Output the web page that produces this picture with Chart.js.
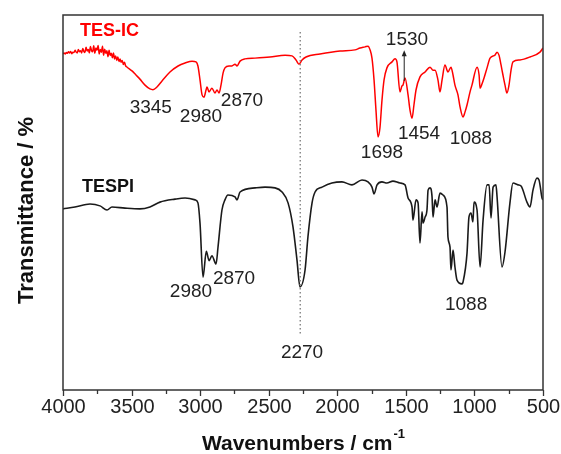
<!DOCTYPE html>
<html>
<head>
<meta charset="utf-8">
<script src="https://cdn.jsdelivr.net/npm/chart.js@4/dist/chart.umd.min.js"></script>
<style>
  html, body { margin: 0; padding: 0; background: #fff; }
  canvas { display: block; }
</style>
</head>
<body>
<canvas id="c" width="561" height="454"></canvas>
<script>
// ---- Data (wavenumber in cm-1, transmittance in arbitrary %) ----
const tesicWavenumbers = [4000,3992,3984,3976,3968,3960,3952,3944,3936,3928,3920,3912,3904,3896,3888,3880,3872,3864,3856,3848,3840,3832,3824,3816,3808,3800,3792,3784,3776,3768,3760,3752,3744,3736,3728,3720,3712,3704,3696,3688,3680,3672,3664,3656,3648,3640,3632,3624,3616,3608,3600,3592,3584,3576,3568,3560,3552,3544,3536,3497,3468,3439,3402,3366,3344,3315,3278,3220,3161,3110,3059,3030,3016,3001,2986,2972,2957,2950,2935,2914,2892,2877,2862,2848,2833,2819,2790,2768,2746,2731,2709,2673,2600,2491,2381,2330,2301,2279,2257,2228,2126,1980,1871,1834,1798,1776,1761,1747,1732,1718,1703,1689,1674,1659,1638,1601,1579,1565,1543,1528,1521,1506,1484,1470,1455,1441,1426,1397,1360,1324,1302,1287,1266,1251,1236,1215,1193,1171,1156,1142,1120,1105,1083,1069,1054,1032,1018,981,966,959,945,930,908,886,850,835,821,806,792,777,763,748,733,719,668,595,522,500];
const tesicValues = [89.6,89.9,89.6,90.0,89.8,90.2,89.9,90.3,89.7,90.1,90.0,90.6,90.1,89.9,90.8,90.2,90.5,89.9,91.1,90.3,90.0,91.4,90.4,90.8,89.9,91.6,90.5,90.2,91.8,89.8,91.2,90.6,91.9,89.6,90.8,90.1,91.7,89.3,90.9,89.8,90.5,88.9,90.6,89.2,89.8,88.6,89.9,88.3,89.1,87.9,88.8,87.6,88.3,87.4,87.9,86.8,87.4,86.5,86.2,85.1,84.0,82.9,81.3,80.3,80.1,80.8,82.4,84.8,86.4,87.2,87.7,87.5,86.4,82.7,78.7,78.1,80.0,80.8,79.5,80.5,79.2,80.0,79.2,81.3,84.5,85.9,86.4,86.4,86.9,86.4,87.7,88.3,88.5,88.8,89.3,89.1,88.0,86.9,88.0,88.8,89.6,90.4,90.7,91.2,91.5,91.7,90.7,88.5,82.7,74.7,67.5,69.9,77.3,82.7,85.9,87.5,88.3,87.5,79.5,81.1,81.3,83.2,78.7,74.7,72.5,76.0,80.0,83.5,84.8,86.1,85.3,85.3,82.7,79.5,82.7,86.7,84.8,86.1,84.0,81.3,78.7,75.5,72.8,74.1,76.0,79.5,81.3,86.1,84.0,80.5,81.6,83.2,85.9,88.5,89.3,90.1,89.3,86.7,84.0,81.3,79.2,81.3,85.3,87.5,88.0,88.8,90.1,91.2];

const tespiWavenumbers = [4000,3913,3803,3730,3679,3643,3548,3439,3366,3293,3183,3110,3037,3016,3001,2979,2955,2935,2914,2884,2870,2841,2819,2797,2746,2731,2709,2600,2527,2454,2403,2359,2323,2294,2272,2235,2214,2184,2162,2111,2039,1966,1893,1820,1776,1747,1732,1710,1674,1638,1594,1543,1506,1484,1455,1448,1426,1411,1397,1382,1375,1360,1346,1338,1324,1309,1302,1287,1273,1251,1229,1200,1193,1178,1171,1156,1142,1127,1091,1083,1054,1040,1025,1011,1003,981,959,937,908,893,879,864,843,835,799,777,741,719,682,660,617,595,573,544,529,507,500];
const tespiValues = [48.3,48.8,49.6,49.1,48.0,48.8,48.5,48.3,48.8,50.1,50.9,51.2,50.7,49.9,44.5,30.1,37.0,34.5,35.8,33.6,38.0,48.0,50.7,52.0,51.5,50.7,52.8,53.9,54.1,53.9,52.8,49.9,43.5,34.7,27.5,32.0,40.8,49.9,52.8,54.1,55.2,55.5,54.7,56.0,55.5,54.1,52.3,54.7,55.5,55.2,55.7,55.2,54.7,51.2,48.8,45.3,50.7,49.9,39.2,47.5,44.5,46.1,48.0,53.3,53.9,51.5,46.1,50.7,48.8,52.5,52.0,48.8,40.8,38.1,32.0,37.3,32.8,29.3,28.3,28.8,36.5,46.1,47.2,44.8,50.1,48.0,32.8,45.3,54.7,54.7,45.9,54.1,54.7,51.5,32.8,36.8,49.9,55.2,54.7,54.4,50.1,48.8,53.3,56.5,56.0,51.2,50.7];

const xTickValues = [4000,3500,3000,2500,2000,1500,1000,500];
const minorTickValues = [3750,3250,2750,2250,1750,1250,750];

// dotted marker line at 2270
const markerX = [2270, 2270];
const markerY = [95.5, 14.5];

// peak labels
const redLabels   = ["3345","2980","2870","1698","1454","1088","1530"];
const redLabelX   = [3360, 2994, 2695, 1674, 1404, 1025, 1492];
const redLabelY   = [75.2, 72.8, 77.0, 63.2, 68.3, 66.9, 93.3];
const blackLabels = ["2980","2870","2270","1088"];
const blackLabelX = [3067, 2753, 2257, 1061];
const blackLabelY = [26.1, 29.6, 9.9, 22.7];
const seriesNames = ["TES-IC","TESPI"];
const seriesNameX = [3876, 3861];
const seriesNameY = [95.7, 54.1];
// arrow for 1530 band
const arrowX = 1512, arrowYFrom = 82.4, arrowYTo = 90.6;

const FONT = "'Liberation Sans', Arial, Helvetica, sans-serif";

const decor = {
  id: 'decor',
  afterDraw(chart) {
    const ctx = chart.ctx, a = chart.chartArea;
    const xs = chart.scales.x, ys = chart.scales.y;
    ctx.save();
    // frame
    ctx.strokeStyle = '#333';
    ctx.lineWidth = 1.5;
    ctx.strokeRect(a.left, a.top, a.right - a.left, a.bottom - a.top);
    // ticks and tick labels
    ctx.lineWidth = 1.3;
    ctx.fillStyle = '#222';
    ctx.font = '20px ' + FONT;
    ctx.textAlign = 'center';
    ctx.textBaseline = 'middle';
    xTickValues.forEach(v => {
      const p = Math.round(xs.getPixelForValue(v)) + 0.5;
      ctx.beginPath(); ctx.moveTo(p, a.bottom); ctx.lineTo(p, a.bottom + 6); ctx.stroke();
      ctx.fillText(String(v), p, a.bottom + 17);
    });
    minorTickValues.forEach(v => {
      const p = Math.round(xs.getPixelForValue(v)) + 0.5;
      ctx.beginPath(); ctx.moveTo(p, a.bottom); ctx.lineTo(p, a.bottom + 4); ctx.stroke();
    });
    // labels
    ctx.font = '19px ' + FONT;
    redLabels.forEach((t, i) => ctx.fillText(t, xs.getPixelForValue(redLabelX[i]), ys.getPixelForValue(redLabelY[i])));
    blackLabels.forEach((t, i) => ctx.fillText(t, xs.getPixelForValue(blackLabelX[i]), ys.getPixelForValue(blackLabelY[i])));
    // series names
    ctx.textAlign = 'left';
    ctx.font = 'bold 18px ' + FONT;
    ctx.fillStyle = '#ff0000';
    ctx.fillText(seriesNames[0], xs.getPixelForValue(seriesNameX[0]), ys.getPixelForValue(seriesNameY[0]));
    ctx.fillStyle = '#111';
    ctx.fillText(seriesNames[1], xs.getPixelForValue(seriesNameX[1]), ys.getPixelForValue(seriesNameY[1]));
    // arrow
    const ax = xs.getPixelForValue(arrowX), ay0 = ys.getPixelForValue(arrowYFrom), ay1 = ys.getPixelForValue(arrowYTo);
    ctx.strokeStyle = '#222'; ctx.fillStyle = '#222'; ctx.lineWidth = 1;
    ctx.beginPath(); ctx.moveTo(ax, ay0); ctx.lineTo(ax, ay1 + 4); ctx.stroke();
    ctx.beginPath(); ctx.moveTo(ax, ay1); ctx.lineTo(ax - 2.5, ay1 + 6); ctx.lineTo(ax + 2.5, ay1 + 6); ctx.closePath(); ctx.fill();
    // axis titles
    ctx.fillStyle = '#111';
    ctx.font = 'bold 21px ' + FONT;
    ctx.textBaseline = 'alphabetic';
    const main = 'Wavenumbers / cm';
    const wMain = ctx.measureText(main).width;
    ctx.font = 'bold 13px ' + FONT;
    const sup = '-1';
    const wSup = ctx.measureText(sup).width;
    const cx = (a.left + a.right) / 2;
    const startX = cx - (wMain + wSup) / 2;
    ctx.font = 'bold 21px ' + FONT;
    ctx.textAlign = 'left';
    ctx.fillText(main, startX, 450);
    ctx.font = 'bold 13px ' + FONT;
    ctx.fillText(sup, startX + wMain + 1, 438);
    ctx.save();
    ctx.translate(33, (a.top + a.bottom) / 2 + 8);
    ctx.rotate(-Math.PI / 2);
    ctx.font = 'bold 22px ' + FONT;
    ctx.textAlign = 'center';
    ctx.fillText('Transmittance / %', 0, 0);
    ctx.restore();
    ctx.restore();
  }
};

const toPts = (xa, ya) => xa.map((x, i) => ({ x: x, y: ya[i] }));

new Chart(document.getElementById('c'), {
  type: 'line',
  data: {
    datasets: [
      { label: 'marker', data: toPts(markerX, markerY), borderColor: '#8a8a8a', borderWidth: 1.5, borderDash: [1.5, 2.5], pointRadius: 0 },
      { label: 'TES-IC', data: toPts(tesicWavenumbers, tesicValues), borderColor: '#ff0000', borderWidth: 1.5, pointRadius: 0, cubicInterpolationMode: 'monotone' },
      { label: 'TESPI', data: toPts(tespiWavenumbers, tespiValues), borderColor: '#1a1a1a', borderWidth: 1.6, pointRadius: 0, cubicInterpolationMode: 'monotone' }
    ]
  },
  options: {
    responsive: false,
    animation: false,
    devicePixelRatio: 1,
    layout: { padding: { top: 15, right: 18, left: 0, bottom: 0 } },
    plugins: { legend: { display: false }, tooltip: { enabled: false } },
    scales: {
      x: {
        type: 'linear', reverse: true, min: 500, max: 4000,
        afterFit: s => { s.height = 64; },
        grid: { display: false }, border: { display: false },
        ticks: { display: false }
      },
      y: {
        type: 'linear', min: 0, max: 100,
        afterFit: s => { s.width = 63; },
        grid: { display: false }, border: { display: false },
        ticks: { display: false }
      }
    }
  },
  plugins: [decor]
});
</script>
</body>
</html>
